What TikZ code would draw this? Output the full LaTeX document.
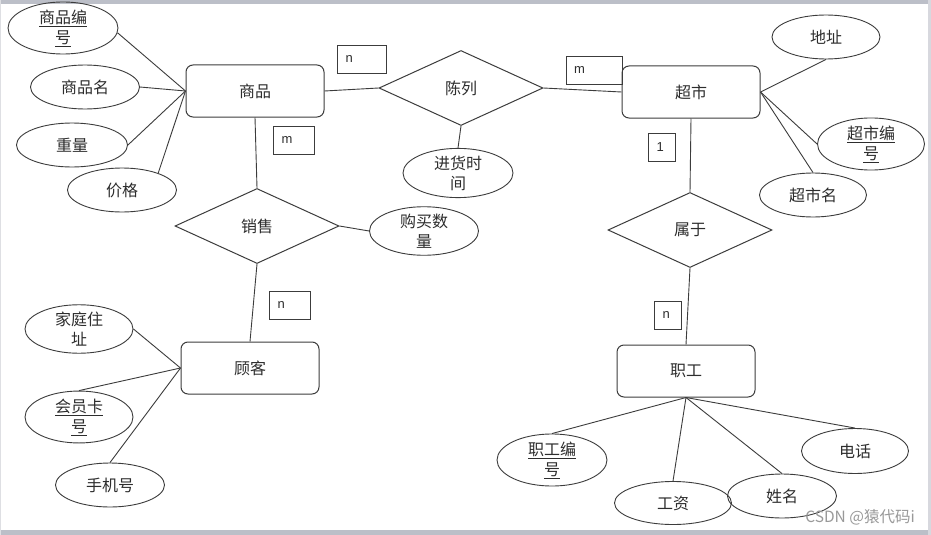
\documentclass[tikz,border=0pt]{standalone}
\usepackage{fontspec}
\setmainfont{Liberation Sans}
\newfontfamily\cjk{Noto Sans CJK SC}
\usetikzlibrary{shapes.geometric}
\definecolor{band}{RGB}{188,191,200}
\definecolor{ln}{RGB}{60,60,60}
\definecolor{tx}{RGB}{45,45,45}
\tikzset{
  ent/.style={draw=ln, line width=1pt, rounded corners=7pt, minimum width=138pt, minimum height=52pt, inner sep=0pt, font=\cjk\fontsize{16}{20}\selectfont, text=tx},
  rel/.style={draw=ln, line width=1pt, diamond, minimum width=164pt, minimum height=75pt, inner sep=0pt, font=\cjk\fontsize{16}{20}\selectfont, text=tx},
  attr/.style={draw=ln, line width=0.9pt, ellipse, minimum width=109pt, minimum height=44pt, inner sep=0pt, align=center, font=\cjk\fontsize{16}{20}\selectfont, text=tx},
  lbl/.style={draw=ln, line width=0.9pt, minimum height=28pt, inner ysep=0pt, inner xsep=8pt, text width=#1, align=left, font=\fontsize{13}{15}\selectfont, text=tx},
  conn/.style={draw=ln, line width=0.9pt}
}
\begin{document}
\begin{tikzpicture}[x=1pt,y=-1pt]
\useasboundingbox (0,0) rectangle (931,535);
\fill[white] (0,0) rectangle (931,535);
\fill[band] (0,0) rectangle (931,4);
\fill[band] (0,530) rectangle (931,535);
\fill[band!60] (928,0) rectangle (931,535);
\fill[band!50] (0,0) rectangle (1,535);

% entities
\node[ent] (sp) at (255,91) {商品};
\node[ent] (cs) at (691,92) {超市};
\node[ent] (gk) at (250,368) {顾客};
\node[ent] (zg) at (686,371) {职工};

% relationships
\node[rel] (cl) at (461,88) {陈列};
\node[rel] (xs) at (257,226) {销售};
\node[rel] (sy) at (690,230) {属于};

% attributes
\node[attr, minimum width=110pt, minimum height=48pt] (spbh) at (63,28) {\underline{商品编}\\\underline{号}};
\node[attr] (spm) at (85,87) {商品名};
\node[attr, minimum width=111pt] (zl) at (72,145) {重量};
\node[attr] (jg) at (122,190) {价格};
\node[attr, minimum width=110pt, minimum height=46pt] (jhsj) at (458,173) {进货时\\间};
\node[attr] (gmsl) at (424,231) {购买数\\量};
\node[attr, minimum width=108pt] (dz) at (826,37) {地址};
\node[attr, minimum width=107pt, minimum height=45pt] (csbh) at (871,144) {\underline{超市编}\\\underline{号}};
\node[attr, minimum width=107pt] (csm) at (813,195) {超市名};
\node[attr, minimum width=108pt] (jtzz) at (79,329) {家庭住\\址};
\node[attr, minimum width=108pt, minimum height=42pt] (hykh) at (79,417) {\underline{会员卡}\\\underline{号}};
\node[attr] (sjh) at (110,485) {手机号};
\node[attr, minimum width=110pt, minimum height=47pt] (zgbh) at (552,460) {\underline{职工编}\\\underline{号}};
\node[attr, minimum width=117pt, minimum height=43pt] (gz) at (673,503) {工资};
\node[attr] (xm) at (782,496) {姓名};
\node[attr, minimum width=107pt, minimum height=45pt] (dh) at (855,451) {电话};

% cardinality labels
\node[lbl=33pt] (l1) at (362,59) {n};
\node[lbl=40pt] (l2) at (594,70) {m};
\node[lbl=25pt] (l3) at (294,140) {m};
\node[lbl=25pt] (l4) at (290,305) {n};
\node[lbl=11pt] (l5) at (662,147) {1};
\node[lbl=11pt] (l6) at (668,315) {n};

% connectors
\draw[conn] (spbh.-5) -- (sp.west);
\draw[conn] (spm.east) -- (sp.west);
\draw[conn] (zl.east) -- (sp.west);
\draw[conn] (jg.25) -- (sp.west);
\draw[conn] (sp.east) -- (cl.west);
\draw[conn] (cl.east) -- (cs.west);
\draw[conn] (cl.south) -- (jhsj.north);
\draw[conn] (sp.south) -- (xs.north);
\draw[conn] (xs.south) -- (gk.north);
\draw[conn] (xs.east) -- (gmsl.west);
\draw[conn] (cs.east) -- (dz.south);
\draw[conn] (cs.east) -- (csbh.west);
\draw[conn] (cs.east) -- (csm.north);
\draw[conn] (cs.south) -- (sy.north);
\draw[conn] (sy.south) -- (zg.north);
\draw[conn] (gk.west) -- (jtzz.east);
\draw[conn] (gk.west) -- (hykh.north);
\draw[conn] (gk.west) -- (sjh.north);
\draw[conn] (zg.south) -- (zgbh.north);
\draw[conn] (zg.south) -- (gz.north);
\draw[conn] (zg.south) -- (xm.north);
\draw[conn] (zg.south) -- (dh.north);

% watermark
\node[font=\cjk\fontsize{15.5}{18}\selectfont, text=black!40, anchor=east, inner sep=0pt] (wm) at (915,517) {CSDN @猿代码i};
\end{tikzpicture}
\end{document}
